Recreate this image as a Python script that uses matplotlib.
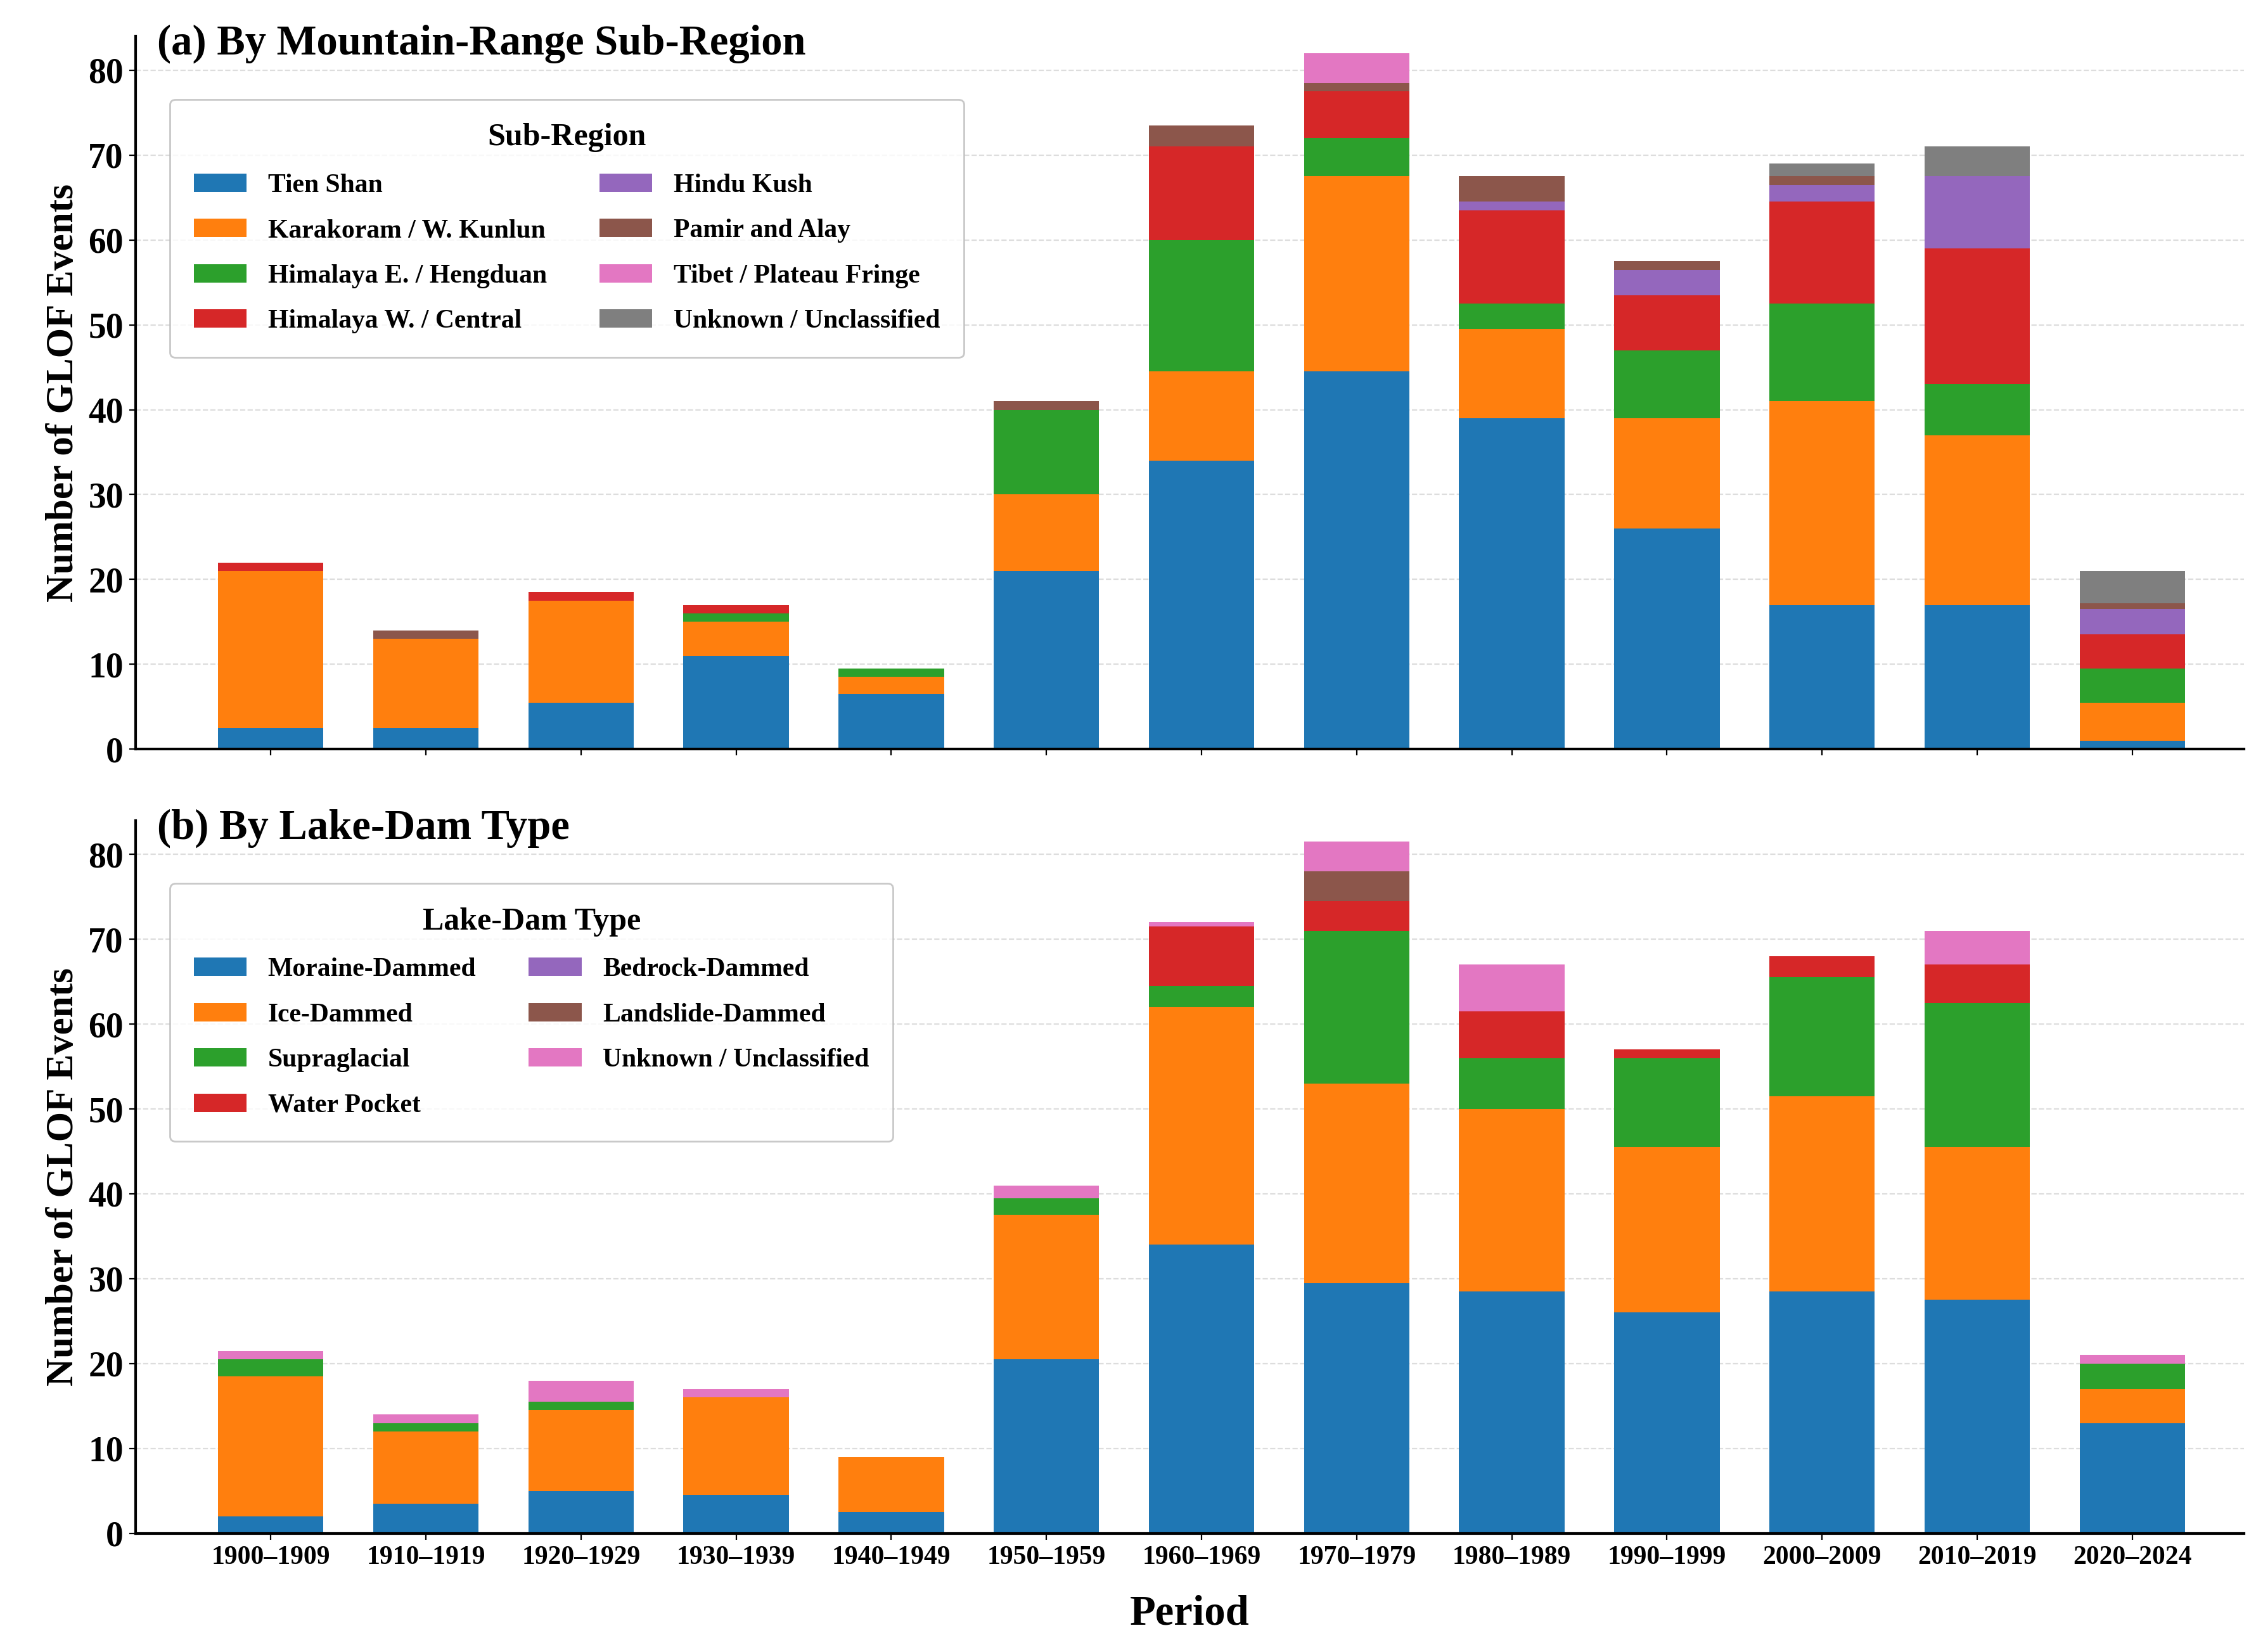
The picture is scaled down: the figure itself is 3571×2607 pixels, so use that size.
import matplotlib.pyplot as plt
import numpy as np

plt.rcParams['font.family'] = ['Liberation Serif', 'DejaVu Serif']
plt.rcParams['font.weight'] = 'bold'

periods = ['1900–1909', '1910–1919', '1920–1929', '1930–1939', '1940–1949', '1950–1959',
           '1960–1969', '1970–1979', '1980–1989', '1990–1999', '2000–2009', '2010–2019', '2020–2024']

region_names = ['Tien Shan', 'Karakoram / W. Kunlun', 'Himalaya E. / Hengduan', 'Himalaya W. / Central',
                'Hindu Kush', 'Pamir and Alay', 'Tibet / Plateau Fringe', 'Unknown / Unclassified']
tien_shan = [2.5, 2.5, 5.5, 11, 6.5, 21, 34, 44.5, 39, 26, 17, 17, 1]
karakoram = [18.5, 10.5, 12, 4, 2, 9, 10.5, 23, 10.5, 13, 24, 20, 4.5]
himalaya_e = [0, 0, 0, 1, 1, 10, 15.5, 4.5, 3, 8, 11.5, 6, 4]
himalaya_w = [1, 0, 1, 1, 0, 0, 11, 5.5, 11, 6.5, 12, 16, 4]
hindu_kush = [0, 0, 0, 0, 0, 0, 0, 0, 1, 3, 2, 8.5, 3]
pamir = [0, 1, 0, 0, 0, 1, 2.5, 1, 3, 1, 1, 0, 0.7]
tibet = [0, 0, 0, 0, 0, 0, 0, 3.5, 0, 0, 0, 0, 0]
unknown_r = [0, 0, 0, 0, 0, 0, 0, 0, 0, 0, 1.5, 3.5, 3.8]
region_series = [tien_shan, karakoram, himalaya_e, himalaya_w, hindu_kush, pamir, tibet, unknown_r]

dam_names = ['Moraine-Dammed', 'Ice-Dammed', 'Supraglacial', 'Water Pocket',
             'Bedrock-Dammed', 'Landslide-Dammed', 'Unknown / Unclassified']
moraine = [2, 3.5, 5, 4.5, 2.5, 20.5, 34, 29.5, 28.5, 26, 28.5, 27.5, 13]
ice = [16.5, 8.5, 9.5, 11.5, 6.5, 17, 28, 23.5, 21.5, 19.5, 23, 18, 4]
supra = [2, 1, 1, 0, 0, 2, 2.5, 18, 6, 10.5, 14, 17, 3]
water = [0, 0, 0, 0, 0, 0, 7, 3.5, 5.5, 1, 2.5, 4.5, 0]
bedrock = [0, 0, 0, 0, 0, 0, 0, 0, 0, 0, 0, 0, 0]
landslide = [0, 0, 0, 0, 0, 0, 0, 3.5, 0, 0, 0, 0, 0]
unknown_d = [1, 1, 2.5, 1, 0, 1.5, 0.5, 3.5, 5.5, 0, 0, 4, 1]
dam_series = [moraine, ice, supra, water, bedrock, landslide, unknown_d]

colors = ['#1f77b4', '#ff7f0e', '#2ca02c', '#d62728', '#9467bd', '#8c564b', '#e377c2', '#7f7f7f']

fig, axes = plt.subplots(2, 1, figsize=(17.855, 13.035), dpi=200)
x = np.arange(len(periods))

panels = [(axes[0], region_series, region_names, '(a) By Mountain-Range Sub-Region', 'Sub-Region'),
          (axes[1], dam_series, dam_names, '(b) By Lake-Dam Type', 'Lake-Dam Type')]

for ax, series, names, title, ltitle in panels:
    bottom = np.zeros(len(periods))
    for vals, name, c in zip(series, names, colors):
        ax.bar(x, vals, 0.68, bottom=bottom, color=c, label=name)
        bottom += np.array(vals)
    ax.set_ylim(0, 84)
    ax.set_xlim(-0.87, len(periods) - 0.28)
    ax.set_yticks(range(0, 81, 10))
    ax.tick_params(axis='y', labelsize=20)
    ax.set_ylabel('Number of GLOF Events', fontsize=22, fontweight='bold')
    ax.set_title(title, fontsize=24, fontweight='bold', loc='left', x=0.01, y=0.96)
    ax.yaxis.grid(True, linestyle='--', color='#dddddd', linewidth=0.8)
    ax.set_axisbelow(True)
    ax.spines['top'].set_visible(False)
    ax.spines['right'].set_visible(False)
    ax.spines['left'].set_linewidth(1.5)
    ax.spines['bottom'].set_linewidth(1.5)
    ax.set_xticks(x)
    leg = ax.legend(ncol=2, loc='upper left', bbox_to_anchor=(0.01, 0.93), fontsize=15,
                    title=ltitle, title_fontproperties={'weight': 'bold', 'size': 18},
                    frameon=True, borderpad=0.9, labelspacing=0.8, columnspacing=2.0)
    leg.get_frame().set_edgecolor('#bbbbbb')

axes[0].set_xticklabels([])
axes[1].set_xticklabels(periods, fontsize=15)
axes[1].set_xlabel('Period', fontsize=24, fontweight='bold', labelpad=14)

plt.tight_layout()
plt.subplots_adjust(hspace=0.1, left=0.06)
plt.savefig('out.png')
plt.close()
